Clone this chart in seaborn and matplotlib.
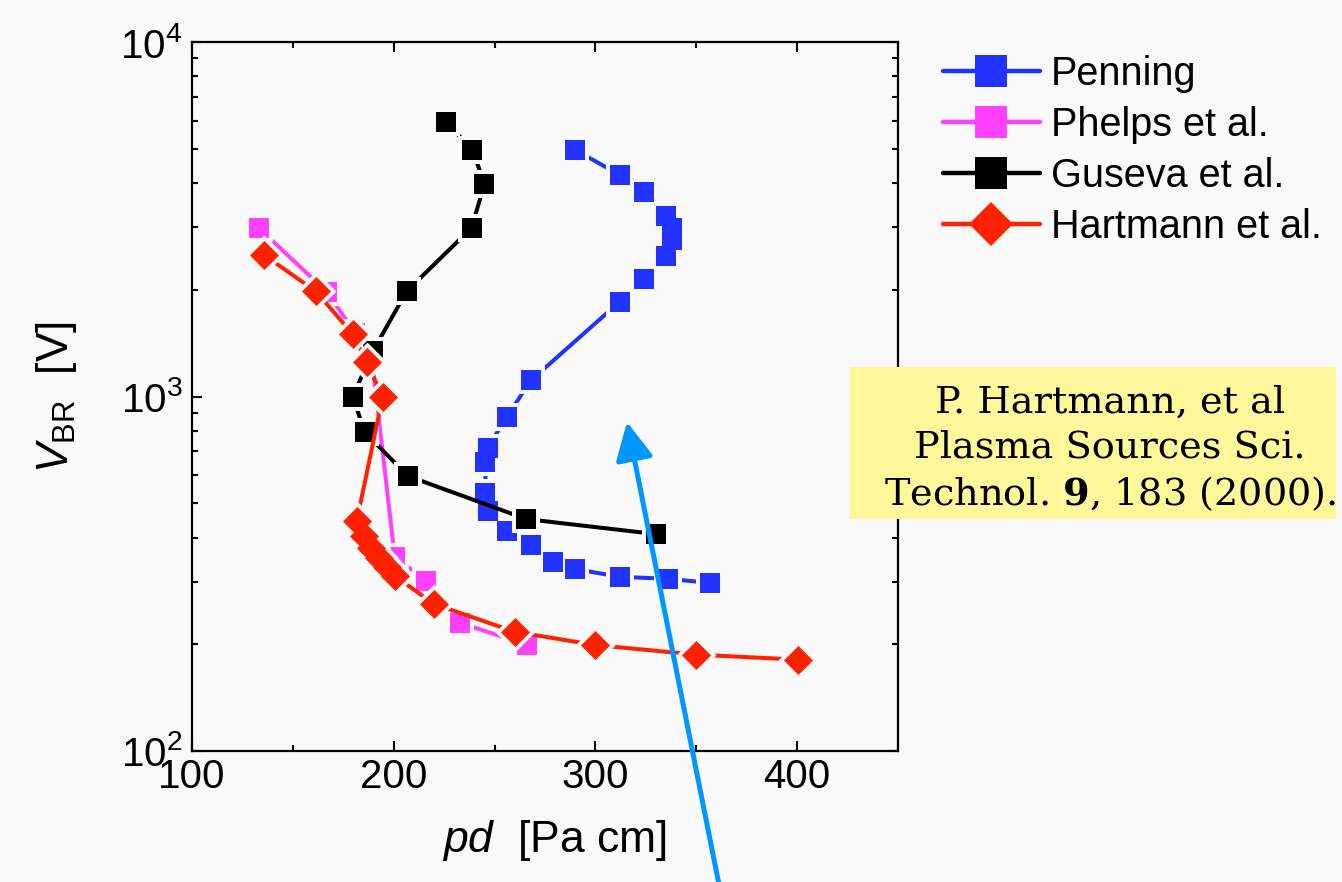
import matplotlib
matplotlib.use("Agg")
import matplotlib.pyplot as plt
import seaborn as sns
from matplotlib.lines import Line2D
from matplotlib.patches import Rectangle, FancyArrowPatch
from matplotlib.ticker import MultipleLocator, LogLocator, NullFormatter

# ---------------- data ----------------
penning_pd = [290, 312, 324, 335, 338, 338, 335, 324, 312, 268, 256, 246.5, 245.5,
              245.5, 246.5, 256, 268, 279, 290, 312, 336, 357]
penning_v = [4960, 4220, 3780, 3230, 2990, 2760, 2490, 2140, 1850, 1110, 875, 716, 653,
             534, 475, 418, 381, 341, 326, 310, 306, 298]

phelps_pd = [133, 167, 181, 189, 200.5, 216, 233, 266]
phelps_v = [2990, 1970, 1510, 1310, 353, 302, 230, 199]

guseva_pd = [226, 239, 245, 238.6, 206.4, 189.6, 179.7, 185.6, 206.9, 265.8, 330.2]
guseva_v = [5950, 4960, 3980, 2990, 1980, 1340, 1000, 794, 597, 451, 409]

hartmann_pd = [135.6, 161.4, 179.7, 186.6, 194.5, 181.7, 185.1, 188.6, 192.6, 196.5,
               200.5, 219.8, 259.9, 300.0, 350.0, 400.5]
hartmann_v = [2510, 1980, 1500, 1250, 997, 446, 404, 374, 350, 330, 312, 260, 217,
              199, 187, 181]

labels = ["Penning", "Phelps et al.", "Guseva et al.", "Hartmann et al."]
colors = ["#2233ff", "#ff40ff", "#000000", "#ff2200"]
markers = ["s", "s", "s", "D"]

x_ticks = [100, 200, 300, 400]
citation = "P. Hartmann, et al\nPlasma Sources Sci.\nTechnol. $\\mathbf{9}$, 183 (2000)."

# ---------------- style ----------------
BG = "#f9f9f9"
sns.set_style("ticks")
plt.rcParams["font.family"] = ["Liberation Sans", "DejaVu Sans"]
plt.rcParams["mathtext.fontset"] = "custom"
plt.rcParams["mathtext.rm"] = "Liberation Sans"
plt.rcParams["mathtext.it"] = "Liberation Sans:italic"
plt.rcParams["mathtext.bf"] = "Liberation Sans:bold"
for k in ["text.color", "axes.labelcolor", "xtick.color", "ytick.color"]:
    plt.rcParams[k] = "black"

fig = plt.figure(figsize=(13.42, 8.82), dpi=100, facecolor=BG)
ax = fig.add_axes([192 / 1342, 1 - 751 / 882, (898 - 192) / 1342, (751 - 42) / 882])
ax.set_facecolor(BG)

series = [
    (penning_pd, penning_v),
    (phelps_pd, phelps_v),
    (guseva_pd, guseva_v),
    (hartmann_pd, hartmann_v),
]

LW = 2.9
for i, ((xs, ys), c, m) in enumerate(zip(series, colors, markers)):
    base = 2 + 3 * i
    sns.lineplot(x=xs, y=ys, sort=False, estimator=None, color=c, lw=LW,
                 ax=ax, zorder=base, legend=False)
    msz = 14.0 if m == "s" else 14.8
    halo = msz + 5.5
    sns.scatterplot(x=xs, y=ys, marker=m, s=halo ** 2, color=BG, linewidth=0,
                    ax=ax, zorder=base + 1, legend=False)
    sns.scatterplot(x=xs, y=ys, marker=m, s=msz ** 2, color=c, linewidth=0,
                    ax=ax, zorder=base + 2, legend=False)

ax.set_yscale("log")
ax.set_ylim(100, 10000)
ax.set_xlim(100, 450)
ax.xaxis.set_major_locator(MultipleLocator(100))
ax.xaxis.set_minor_locator(MultipleLocator(50))
ax.set_xticks(x_ticks)
ax.yaxis.set_minor_locator(LogLocator(base=10, subs=range(2, 10)))
ax.yaxis.set_minor_formatter(NullFormatter())

for sp in ax.spines.values():
    sp.set_linewidth(1.6)
    sp.set_color("black")
    sp.set_visible(True)

ax.tick_params(which="both", direction="in", top=True, right=True, width=1.5,
               colors="black")
ax.tick_params(which="major", length=7)
ax.tick_params(which="minor", length=4)
ax.tick_params(axis="x", which="major", labelsize=29, pad=5)
ax.tick_params(axis="y", which="major", labelsize=29, pad=7)

ax.set_xlabel(r"$\mathit{pd}$  [Pa cm]", fontsize=32)
ax.xaxis.set_label_coords(0.514, -0.095)
ax.set_ylabel(r"$\mathit{V}_{\mathrm{BR}}$  [V]", fontsize=32)
ax.yaxis.set_label_coords(-0.16, 0.5)

# ---------------- legend ----------------
handles = []
for lab, c, m in zip(labels, colors, markers):
    handles.append(Line2D([], [], color=c, lw=3.2, marker=m,
                          markersize=23 if m == "s" else 22.4,
                          markeredgewidth=0, markerfacecolor=c, label=lab))
fig.legend(handles=handles, loc="upper left",
           bbox_to_anchor=(943 / 1342, 1 - 55 / 882), frameon=False,
           fontsize=28.5, handlelength=2.45, handletextpad=0.28,
           labelspacing=0.33, borderpad=0, borderaxespad=0)

# ---------------- citation box ----------------
fig.add_artist(Rectangle((850 / 1342, 1 - 519 / 882), (1336 - 850) / 1342,
                         (519 - 367) / 882, transform=fig.transFigure,
                         facecolor="#fff799", edgecolor="none", zorder=1))
fig.text(1110 / 1342, 1 - 449 / 882, citation, ha="center", va="center",
         multialignment="center", family="DejaVu Serif", fontsize=27.5,
         math_fontfamily="dejavuserif", linespacing=1.3, zorder=2)

# ---------------- arrow ----------------
fig.add_artist(FancyArrowPatch((722 / 1342, -0.02), (627 / 1342, 1 - 422 / 882),
                               transform=fig.transFigure,
                               arrowstyle="-|>,head_length=2.3,head_width=1.15",
                               mutation_scale=10, color="#0096ff", lw=3.6,
                               shrinkA=0, shrinkB=0, zorder=20))

fig.savefig("out.png", dpi=100, facecolor=BG)
